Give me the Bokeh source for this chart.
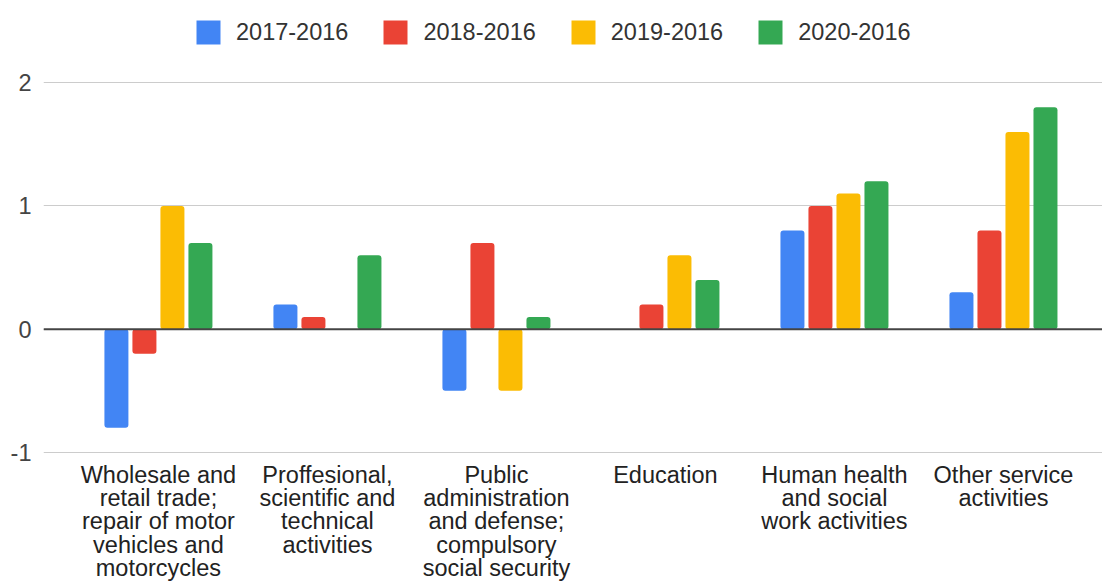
import numpy as np
from bokeh.plotting import figure
from bokeh.models import ColumnDataSource, Range1d, FixedTicker, Span, Legend, LegendItem
from bokeh.embed import file_html
from bokeh.resources import INLINE

categories = [
    "Wholesale and\nretail trade;\nrepair of motor\nvehicles and\nmotorcycles",
    "Proffesional,\nscientific and\ntechnical\nactivities",
    "Public\nadministration\nand defense;\ncompulsory\nsocial security",
    "Education",
    "Human health\nand social\nwork activities",
    "Other service\nactivities",
]
series_names = ["2017-2016", "2018-2016", "2019-2016", "2020-2016"]
v2017 = [-0.8, 0.2, -0.5, np.nan, 0.8, 0.3]
v2018 = [-0.2, 0.1, 0.7, 0.2, 1.0, 0.8]
v2019 = [1.0, np.nan, -0.5, 0.6, 1.1, 1.6]
v2020 = [0.7, 0.6, 0.1, 0.4, 1.2, 1.8]
y_ticks = [-1, 0, 1, 2]
y_tick_labels = ["-1", "0", "1", "2"]
colors = ["#4285F4", "#EA4335", "#FBBC04", "#34A853"]

FONT = "Liberation Sans"

p = figure(frame_width=1059, frame_height=453, output_backend="svg", toolbar_location=None,
           x_range=Range1d(-0.680, 5.586), y_range=Range1d(-1.008, 2.666),
           min_border_left=43, min_border_right=0, min_border_top=0, min_border_bottom=0)
p.outline_line_color = None
p.background_fill_color = "white"
p.border_fill_color = "white"

idx = np.arange(len(categories))
step = 0.1657
bw = 0.142
items = []
for k, (name, vals, c) in enumerate(zip(series_names, [v2017, v2018, v2019, v2020], colors)):
    src = ColumnDataSource(dict(x=idx + (k - 1.5) * step, top=vals))
    r = p.vbar(x="x", top="top", bottom=0, width=bw, source=src, fill_color=c,
               line_color=None, border_radius=3)
    items.append(LegendItem(label=name, renderers=[r]))

p.add_layout(Span(location=0, dimension="width", line_color="#444444", line_width=2))

p.xgrid.visible = False
p.ygrid.grid_line_color = "#cccccc"
p.ygrid.grid_line_width = 1
p.yaxis.ticker = FixedTicker(ticks=y_ticks)
p.yaxis.major_label_overrides = {t: s for t, s in zip(y_ticks, y_tick_labels)}
p.xaxis.ticker = FixedTicker(ticks=list(idx))
p.xaxis.major_label_overrides = {int(i): categories[i] for i in idx}

for ax in (p.xaxis[0], p.yaxis[0]):
    ax.axis_line_color = None
    ax.major_tick_line_color = None
    ax.minor_tick_line_color = None
    ax.major_label_text_font = FONT
    ax.major_label_text_font_size = "23.5px"

p.yaxis.major_label_text_color = "#444444"
p.yaxis.major_label_standoff = 6
p.xaxis.major_label_text_color = "#222222"
p.xaxis.major_label_standoff = 2
p.xaxis.major_label_text_line_height = 0.9

legend = Legend(items=items, orientation="horizontal", location=(150, 406),
                glyph_width=30, glyph_height=30, label_standoff=13, spacing=32,
                padding=0, margin=0, border_line_color=None, background_fill_alpha=0,
                label_text_font=FONT, label_text_font_size="23.5px",
                label_text_color="#333333", label_height=24)
p.add_layout(legend, "center")

open("out.html", "w").write(file_html(p, INLINE))
